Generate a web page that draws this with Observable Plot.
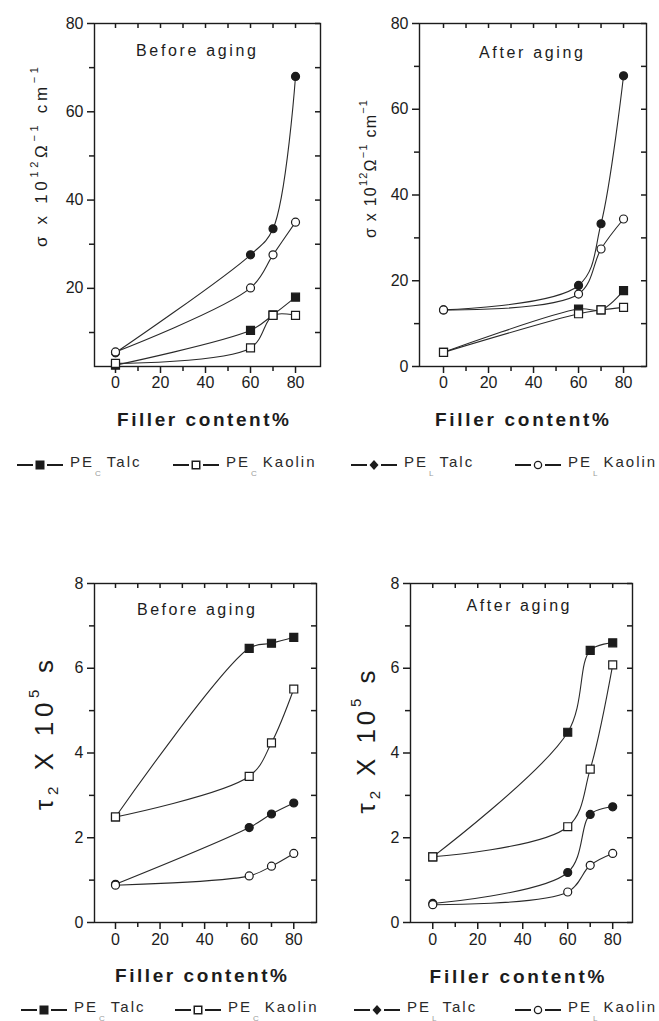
<!DOCTYPE html>
<html>
<head>
<meta charset="utf-8">
<script src="https://cdn.jsdelivr.net/npm/d3@7"></script>
<script src="https://cdn.jsdelivr.net/npm/@observablehq/plot@0.6"></script>
<style>
  body { margin: 0; background: #fff; }
  #wrap { position: relative; width: 659px; height: 1021px; overflow: hidden; background: #fff;
          font-family: "Liberation Sans", Arial, sans-serif; }
  .panel { position: absolute; }
  .legend { position: absolute; left: 0; width: 659px; height: 24px; z-index: 2; }
  .item { position: absolute; top: 0; height: 24px; display: flex; align-items: center;
          font-size: 15px; letter-spacing: 2px; color: #2a2a2a; white-space: nowrap; }
  .item svg { margin-right: 7px; }
  .item sub { font-size: 8px; color: #9a9a9a; vertical-align: -9px; letter-spacing: 0; margin: 0 6px 0 1px; }
</style>
</head>
<body>
<div id="wrap"></div>
<script>
// ---------------- data ----------------
const fillerContent = [0, 60, 70, 80];
const seriesKeys = ["PE_C Talc", "PE_C Kaolin", "PE_L Talc", "PE_L Kaolin"];
const legendBase = ["PE", "PE", "PE", "PE"];
const legendSub = ["C", "C", "L", "L"];
const legendName = ["Talc", "Kaolin", "Talc", "Kaolin"];

// conductivity sigma x 10^12 (ohm^-1 cm^-1)
const sigmaBefore_PEC_Talc   = [2.6, 10.5, 14.0, 18.0];
const sigmaBefore_PEC_Kaolin = [3.0, 6.5, 13.9, 13.9];
const sigmaBefore_PEL_Talc   = [5.4, 27.6, 33.5, 68.0];
const sigmaBefore_PEL_Kaolin = [5.6, 20.1, 27.6, 35.0];
const sigmaAfter_PEC_Talc    = [3.3, 13.4, 13.2, 17.7];
const sigmaAfter_PEC_Kaolin  = [3.3, 12.3, 13.2, 13.8];
const sigmaAfter_PEL_Talc    = [13.2, 18.9, 33.3, 67.8];
const sigmaAfter_PEL_Kaolin  = [13.2, 16.9, 27.4, 34.4];

// tau2 x 10^5 s
const tauBefore_PEC_Talc   = [2.49, 6.47, 6.59, 6.73];
const tauBefore_PEC_Kaolin = [2.49, 3.45, 4.24, 5.51];
const tauBefore_PEL_Talc   = [0.90, 2.24, 2.56, 2.82];
const tauBefore_PEL_Kaolin = [0.88, 1.10, 1.33, 1.63];
const tauAfter_PEC_Talc    = [1.55, 4.49, 6.42, 6.60];
const tauAfter_PEC_Kaolin  = [1.55, 2.26, 3.62, 6.08];
const tauAfter_PEL_Talc    = [0.45, 1.18, 2.55, 2.73];
const tauAfter_PEL_Kaolin  = [0.42, 0.72, 1.35, 1.63];

// tick values
const xTicks = [0, 20, 40, 60, 80];
const xMinorTicks = [10, 30, 50, 70];
const sigmaTicksBefore = [20, 40, 60, 80];
const sigmaTicksAfter = [0, 20, 40, 60, 80];
const sigmaMinorTicks = [10, 30, 50, 70];
const tauTicks = [0, 2, 4, 6, 8];
const tauMinorTicks = [1, 3, 5, 7];

// texts
const titleBefore = "Before aging";
const titleAfter = "After aging";
const xLabel = "Filler content%";

// ---------------- drawing ----------------
const INK = "#1c1c1c";
const seriesStyle = [
  {symbol: "square", fill: INK, r: 4.5},
  {symbol: "square", fill: "white", r: 4.5},
  {symbol: "circle", fill: INK, r: 4.0},
  {symbol: "circle", fill: "white", r: 4.0}
];

const wrap = document.getElementById("wrap");
const noText = () => "";

function makePanel(cfg) {
  const fw = cfg.width - cfg.ml - cfg.mr;
  const fh = cfg.height - cfg.mt - cfg.mb;
  const marks = [Plot.frame({stroke: INK, strokeWidth: 1.4})];
  marks.push(Plot.axisX(xTicks, {anchor: "bottom", tickSize: 7, tickPadding: cfg.xPad, strokeWidth: 1.5, fontSize: 16, color: INK, label: null}));
  marks.push(Plot.axisX(xMinorTicks, {anchor: "bottom", tickSize: 5, strokeWidth: 1.5, tickFormat: noText, color: INK, label: null}));
  marks.push(Plot.axisY(cfg.yTicks, {anchor: "left", tickSize: 7, tickPadding: 4, strokeWidth: 1.5, fontSize: 16, color: INK, label: null}));
  marks.push(Plot.axisY(cfg.yMinor, {anchor: "left", tickSize: 5, strokeWidth: 1.5, tickFormat: noText, color: INK, label: null}));
  // inward ticks on the top and right edges of the frame
  marks.push(Plot.tickX([...xTicks, ...xMinorTicks], {insetBottom: fh - 5, stroke: INK, strokeWidth: 1.5}));
  marks.push(Plot.tickY([...cfg.yTicks, ...cfg.yMinor], {insetLeft: fw - 5, stroke: INK, strokeWidth: 1.5}));
  const tables = cfg.series.map(vals => fillerContent.map((x, i) => ({x, y: vals[i]})));
  tables.forEach(t => marks.push(Plot.line(t, {x: "x", y: "y", curve: "catmull-rom", stroke: "#2a2a2a", strokeWidth: 1.1})));
  tables.forEach((t, k) => marks.push(Plot.dot(t, {x: "x", y: "y", symbol: seriesStyle[k].symbol, r: seriesStyle[k].r,
    fill: seriesStyle[k].fill, stroke: INK, strokeWidth: 1.2})));

  const svg = Plot.plot({
    width: cfg.width, height: cfg.height,
    marginLeft: cfg.ml, marginRight: cfg.mr, marginTop: cfg.mt, marginBottom: cfg.mb,
    x: {domain: cfg.xDomain},
    y: {domain: cfg.yDomain},
    style: {background: "transparent", color: INK, fontFamily: "'Liberation Sans', Arial, sans-serif", overflow: "visible"},
    marks
  });
  const s = d3.select(svg);
  const font = "'Liberation Sans', Arial, sans-serif";
  // panel title
  s.append("text").attr("x", cfg.title.x).attr("y", cfg.title.y)
    .attr("text-anchor", "middle").attr("dominant-baseline", "central")
    .attr("font-family", font).attr("font-size", 16).attr("fill", INK)
    .attr("textLength", cfg.title.len).attr("lengthAdjust", "spacing")
    .text(cfg.title.text);
  // x label
  s.append("text").attr("x", cfg.xl.x).attr("y", cfg.xl.y)
    .attr("text-anchor", "middle").attr("dominant-baseline", "central")
    .attr("font-family", font).attr("font-size", 19).attr("font-weight", "bold").attr("fill", INK)
    .attr("textLength", cfg.xl.len).attr("lengthAdjust", "spacing")
    .text(xLabel);
  // y label
  const yl = s.append("text")
    .attr("transform", `translate(${cfg.yl.x},${cfg.yl.y}) rotate(-90)`)
    .attr("text-anchor", "middle").attr("dominant-baseline", "central")
    .attr("font-family", font).attr("font-size", cfg.yl.size).attr("fill", INK)
    .attr("textLength", cfg.yl.len).attr("lengthAdjust", "spacing");
  cfg.yl.parts.forEach(p => {
    yl.append("tspan").attr("dy", p.dy || 0).attr("font-size", p.size || cfg.yl.size).text(p.t);
  });

  const div = document.createElement("div");
  div.className = "panel";
  div.style.left = cfg.left + "px";
  div.style.top = cfg.top + "px";
  div.appendChild(svg);
  wrap.appendChild(div);
}

const sigmaParts = [
  {t: "σ x 10"}, {t: "12", dy: -7, size: 11}, {t: "Ω", dy: 7}, {t: "−1", dy: -7, size: 11},
  {t: " cm", dy: 7}, {t: "−1", dy: -7, size: 11}
];
const tauParts = [
  {t: "τ"}, {t: "2", dy: 8, size: 15}, {t: " X 10", dy: -8}, {t: "5", dy: -11, size: 15}, {t: " s", dy: 11}
];

// top-left: conductivity before aging
makePanel({
  left: 0, top: 0, width: 330, height: 440, ml: 94, mr: 10, mt: 23, mb: 74,
  xDomain: [-9.33, 91.1], yDomain: [2.3, 80], yTicks: sigmaTicksBefore, yMinor: sigmaMinorTicks, xPad: 3,
  series: [sigmaBefore_PEC_Talc, sigmaBefore_PEC_Kaolin, sigmaBefore_PEL_Talc, sigmaBefore_PEL_Kaolin],
  title: {text: titleBefore, x: 196, y: 50, len: 120},
  xl: {x: 203, y: 419, len: 172},
  yl: {x: 41, y: 157, size: 17, len: 180, parts: sigmaParts}
});
// top-right: conductivity after aging
makePanel({
  left: 330, top: 0, width: 329, height: 440, ml: 89, mr: 13, mt: 23, mb: 74,
  xDomain: [-10.67, 90.2], yDomain: [0, 80], yTicks: sigmaTicksAfter, yMinor: sigmaMinorTicks, xPad: 3,
  series: [sigmaAfter_PEC_Talc, sigmaAfter_PEC_Kaolin, sigmaAfter_PEL_Talc, sigmaAfter_PEL_Kaolin],
  title: {text: titleAfter, x: 201, y: 52, len: 104},
  xl: {x: 192, y: 419, len: 174},
  yl: {x: 40, y: 169, size: 16, len: 138, parts: sigmaParts}
});
// bottom-left: tau before aging
makePanel({
  left: 0, top: 560, width: 330, height: 440, ml: 94, mr: 14, mt: 23, mb: 78,
  xDomain: [-9.42, 90.2], yDomain: [0, 8], yTicks: tauTicks, yMinor: tauMinorTicks, xPad: 4,
  series: [tauBefore_PEC_Talc, tauBefore_PEC_Kaolin, tauBefore_PEL_Talc, tauBefore_PEL_Kaolin],
  title: {text: titleBefore, x: 196, y: 49, len: 118},
  xl: {x: 201, y: 415, len: 172},
  yl: {x: 44, y: 175, size: 26, len: 150, parts: tauParts}
});
// bottom-right: tau after aging
makePanel({
  left: 330, top: 560, width: 329, height: 440, ml: 80, mr: 27, mt: 23, mb: 78,
  xDomain: [-9.9, 88.8], yDomain: [0, 8], yTicks: tauTicks, yMinor: tauMinorTicks, xPad: 4,
  series: [tauAfter_PEC_Talc, tauAfter_PEC_Kaolin, tauAfter_PEL_Talc, tauAfter_PEL_Kaolin],
  title: {text: titleAfter, x: 188, y: 45, len: 103},
  xl: {x: 187, y: 416, len: 175},
  yl: {x: 36, y: 182, size: 26, len: 143, parts: tauParts}
});

// ---------------- legends ----------------
const legendMarker = ["square-filled", "square-open", "diamond-filled", "circle-open"];
function makeLegend(top, xs) {
  const lg = document.createElement("div");
  lg.className = "legend";
  lg.style.top = top + "px";
  seriesKeys.forEach((key, k) => {
    const it = document.createElement("div");
    it.className = "item";
    it.style.left = xs[k] + "px";
    const sv = d3.create("svg").attr("width", 46).attr("height", 14);
    sv.append("line").attr("x1", 0).attr("x2", 16).attr("y1", 7).attr("y2", 7).attr("stroke", INK).attr("stroke-width", 2);
    sv.append("line").attr("x1", 30).attr("x2", 46).attr("y1", 7).attr("y2", 7).attr("stroke", INK).attr("stroke-width", 2);
    const m = legendMarker[k];
    if (m.startsWith("square")) {
      sv.append("rect").attr("x", 19.25).attr("y", 3.25).attr("width", 7.5).attr("height", 7.5)
        .attr("fill", m.endsWith("filled") ? INK : "white").attr("stroke", INK).attr("stroke-width", 1.5);
    } else if (m.startsWith("diamond")) {
      sv.append("path").attr("d", "M23,2L27.5,7L23,12L18.5,7Z").attr("fill", INK);
    } else {
      sv.append("circle").attr("cx", 23).attr("cy", 7).attr("r", 3.6).attr("fill", "white").attr("stroke", INK).attr("stroke-width", 1.3);
    }
    it.appendChild(sv.node());
    const sp = document.createElement("span");
    sp.innerHTML = `${legendBase[k]}<sub>${legendSub[k]}</sub>${legendName[k]}`;
    it.appendChild(sp);
    lg.appendChild(it);
  });
  wrap.appendChild(lg);
}
makeLegend(453, [17, 173, 351, 515]);
makeLegend(998, [21, 175, 354, 515]);
</script>
</body>
</html>
